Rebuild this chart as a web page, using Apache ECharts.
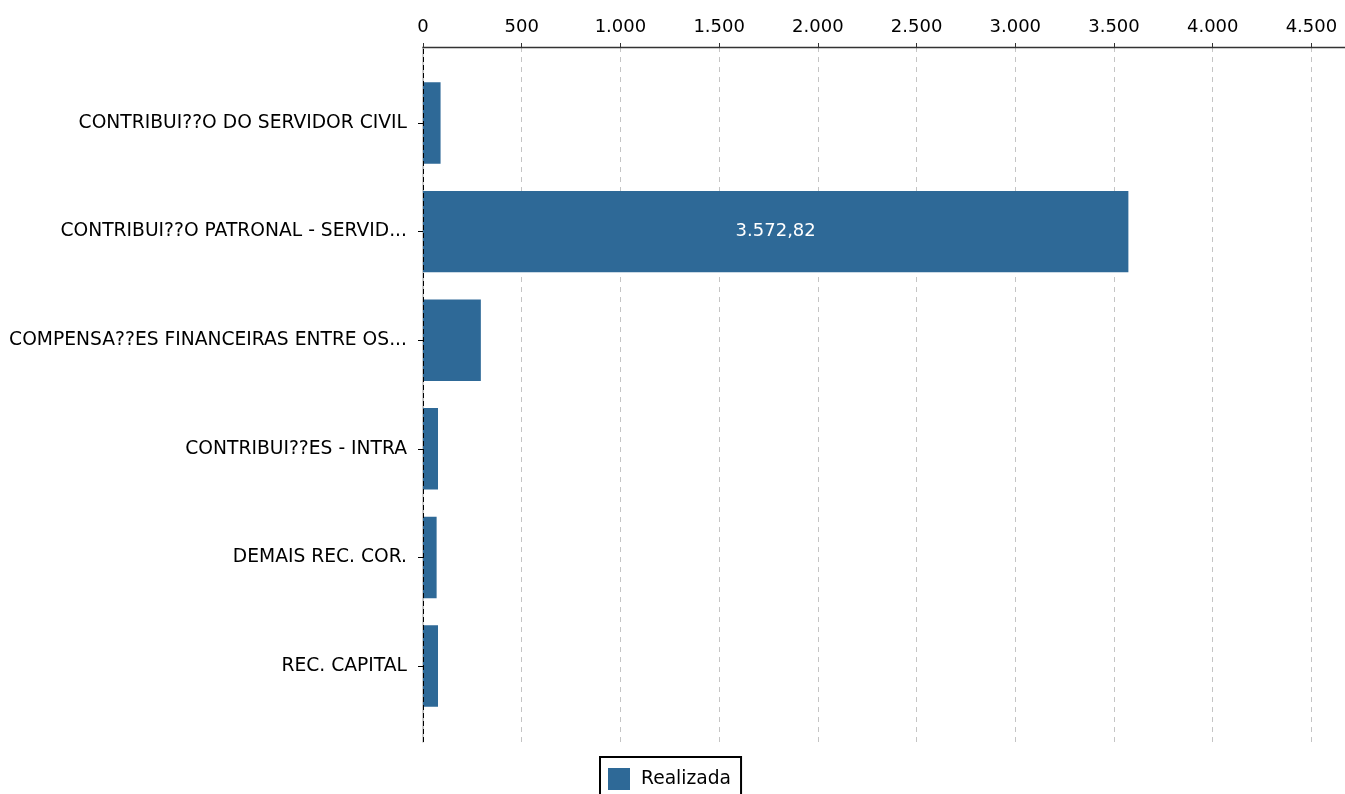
<!DOCTYPE html>
<html><head><meta charset="utf-8">
<script src="https://cdn.jsdelivr.net/npm/echarts@6/dist/echarts.min.js"></script>
<style>html,body{margin:0;padding:0;background:#fff}#c{width:1345px;height:794px}</style>
</head><body><div id="c"></div>
<script>
const categories = [
  "CONTRIBUI??O DO SERVIDOR CIVIL",
  "CONTRIBUI??O PATRONAL - SERVID...",
  "COMPENSA??ES FINANCEIRAS ENTRE OS...",
  "CONTRIBUI??ES - INTRA",
  "DEMAIS REC. COR.",
  "REC. CAPITAL"
];
const realizada = [89, 3572.82, 293, 76, 69, 76];
const xTicks = [0, 500, 1000, 1500, 2000, 2500, 3000, 3500, 4000, 4500];
const seriesName = "Realizada";

function fmtBR(v, dec) {
  const s = Number(v).toFixed(dec);
  const parts = s.split(".");
  parts[0] = parts[0].replace(/\B(?=(\d{3})+(?!\d))/g, ".");
  return dec > 0 ? parts[0] + "," + parts[1] : parts[0];
}

const FONT = "DejaVu Sans";
const FS = 18;
const FS_TXT = 18.7;
const XMAX = 4670;
const chart = echarts.init(document.getElementById('c'), null, {renderer: 'canvas'});
chart.setOption({
  animation: false,
  textStyle: {fontFamily: FONT},
  grid: [
    {left: 423, right: 0, top: 68.7, bottom: 73.7, containLabel: false},
    {left: 423, right: 0, top: 47, bottom: 52, containLabel: false}
  ],
  legend: {
    data: [seriesName],
    left: 600, top: 757,
    orient: 'horizontal',
    icon: 'rect', itemWidth: 22, itemHeight: 22, itemGap: 10,
    padding: [11, 10, 8, 8],
    borderColor: '#000', borderWidth: 2, borderRadius: 0,
    textStyle: {fontFamily: FONT, fontSize: FS_TXT, color: '#000', padding: [0, 0, 0, 6]}
  },
  xAxis: [
    {gridIndex: 0, type: 'value', min: 0, max: XMAX, show: false},
    {gridIndex: 1, type: 'value', min: 0, max: XMAX, position: 'top', interval: 500,
     axisLine: {show: true, onZero: false, lineStyle: {color: '#333', width: 1.3}},
     axisTick: {show: true, length: 4, lineStyle: {color: '#333'}, customValues: xTicks},
     axisLabel: {show: true, color: '#000', fontSize: FS, fontFamily: FONT, margin: 11,
       customValues: xTicks,
       formatter: v => fmtBR(v, 0)},
     splitLine: {show: true, lineStyle: {color: '#c4c4c4', type: [5, 5], width: 1}}
    }
  ],
  yAxis: [
    {gridIndex: 0, type: 'category', data: categories, inverse: true,
     axisLine: {show: false},
     axisTick: {show: true, alignWithLabel: true, length: 5, lineStyle: {color: '#000'}},
     axisLabel: {color: '#000', fontSize: FS_TXT, fontFamily: FONT, margin: 16},
     splitLine: {show: false}},
    {gridIndex: 1, type: 'value', min: 0, max: 1,
     axisLine: {show: true, onZero: false, lineStyle: {color: '#bbb', width: 1.5}},
     axisTick: {show: false}, axisLabel: {show: false}, splitLine: {show: false}}
  ],
  series: [
    {
      name: seriesName, type: 'bar', xAxisIndex: 0, yAxisIndex: 0,
      data: realizada, barCategoryGap: '25%',
      itemStyle: {color: '#2E6997'},
      label: {show: true, position: 'inside', color: '#fff', fontSize: FS, fontFamily: FONT,
        formatter: p => p.value > 1000 ? fmtBR(p.value, 2) : ''}
    },
    {
      type: 'line', xAxisIndex: 1, yAxisIndex: 1, data: [], silent: true,
      markLine: {silent: true, symbol: 'none', label: {show: false},
        lineStyle: {color: '#000', type: [5, 3], width: 1},
        data: [{xAxis: 0}]}
    }
  ]
});
</script></body></html>
